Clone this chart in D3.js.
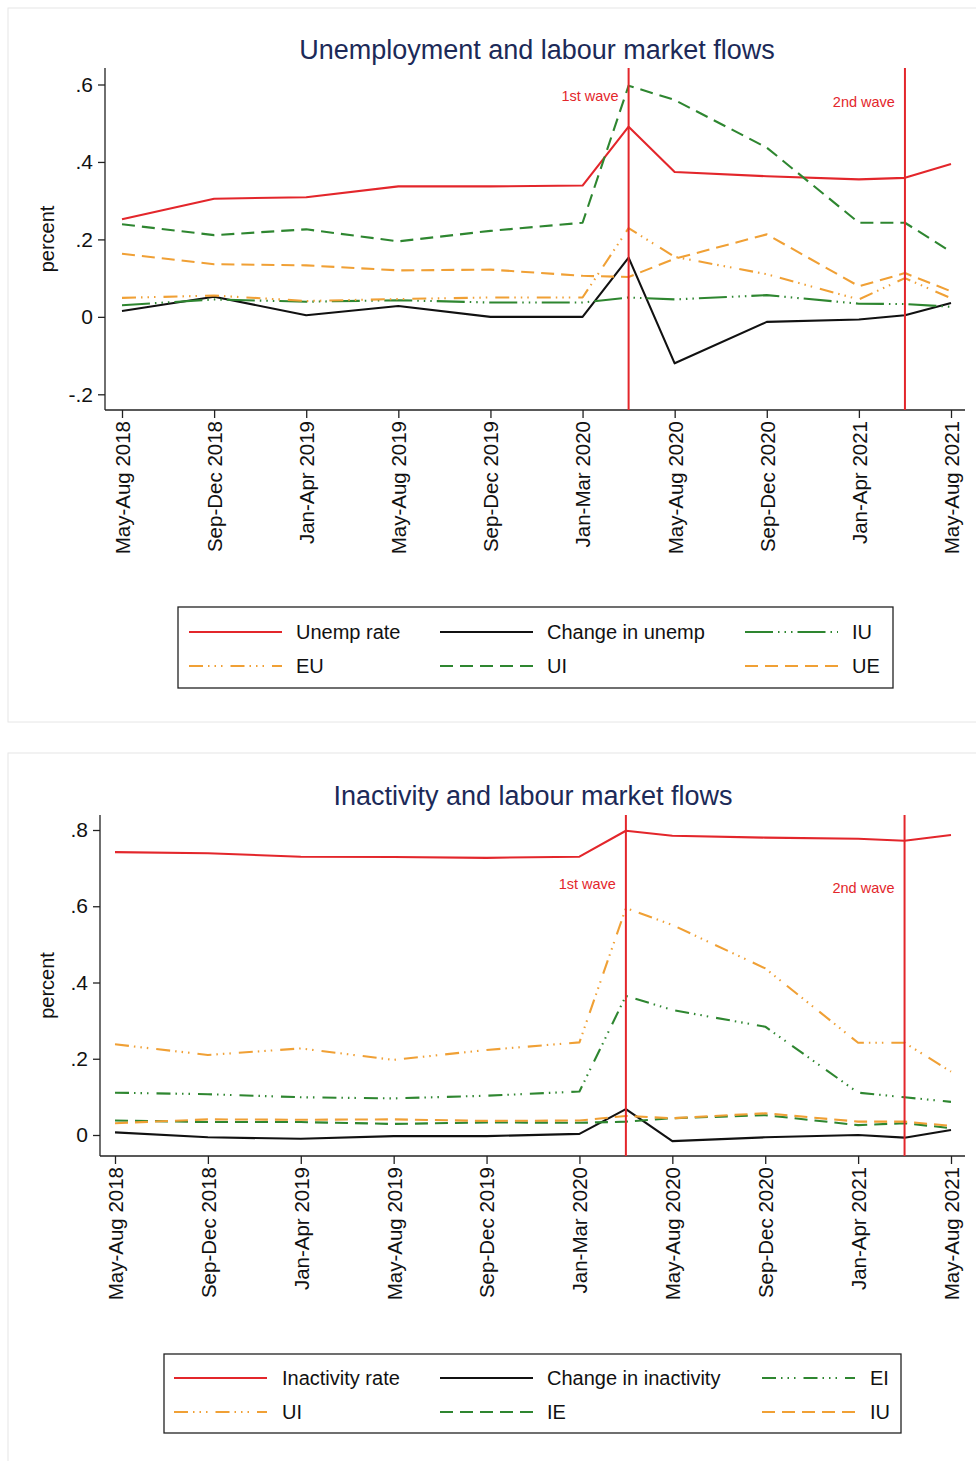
<!DOCTYPE html>
<html><head><meta charset="utf-8">
<script src="https://cdn.jsdelivr.net/npm/d3@7"></script>
<style>
body{margin:0;background:#fff;}
svg{display:block;font-family:"Liberation Sans",Arial,Helvetica,sans-serif;}
</style></head>
<body>
<svg id="chart" width="976" height="1461"></svg>
<script>
// ---- data ----
const tickLabels = ["May-Aug 2018","Sep-Dec 2018","Jan-Apr 2019","May-Aug 2019","Sep-Dec 2019","Jan-Mar 2020","May-Aug 2020","Sep-Dec 2020","Jan-Apr 2021","May-Aug 2021"];
const tickPos = [0,1,2,3,4,5,6,7,8,9];
const periods = [0,1,2,3,4,5,5.5,6,7,8,8.5,9];   // observation positions on the time axis
const waves = [{pos:5.5,label:"1st wave"},{pos:8.5,label:"2nd wave"}];

// Chart 1: unemployment
const unempRate   = [0.252,0.305,0.309,0.337,0.337,0.339,0.491,0.374,0.363,0.355,0.359,0.395];
const chgUnemp    = [0.015,0.052,0.004,0.028,0.000,0.000,0.153,-0.120,-0.013,-0.007,0.004,0.036];
const flowIU1     = [0.030,0.045,0.039,0.043,0.037,0.037,0.050,0.045,0.056,0.034,0.033,0.026];
const flowEU1     = [0.049,0.055,0.041,0.046,0.050,0.050,0.229,0.155,0.110,0.045,0.100,0.048];
const flowUI1     = [0.239,0.211,0.226,0.195,0.222,0.243,0.597,0.560,0.437,0.243,0.243,0.168];
const flowUE1     = [0.163,0.136,0.133,0.120,0.122,0.106,0.103,0.150,0.213,0.079,0.113,0.066];

// Chart 2: inactivity
const inactRate   = [0.742,0.739,0.730,0.729,0.727,0.730,0.798,0.785,0.780,0.777,0.772,0.787];
const chgInact    = [0.007,-0.006,-0.010,-0.003,-0.003,0.003,0.068,-0.016,-0.006,0.000,-0.007,0.013];
const flowEI2     = [0.111,0.107,0.099,0.096,0.103,0.114,0.365,0.328,0.284,0.111,0.099,0.087];
const flowUI2     = [0.238,0.210,0.227,0.197,0.223,0.243,0.595,0.551,0.437,0.242,0.242,0.166];
const flowIE2     = [0.038,0.034,0.034,0.029,0.033,0.032,0.035,0.044,0.052,0.026,0.031,0.018];
const flowIU2     = [0.031,0.041,0.040,0.041,0.037,0.038,0.050,0.044,0.057,0.035,0.035,0.024];

const yTicks1 = [-0.2,0,0.2,0.4,0.6];
const yTicks2 = [0,0.2,0.4,0.6,0.8];

// ---- styles ----
const RED="#e3262b", BLACK="#111", GREEN="#2e8630", ORANGE="#f0a035";
const DASH="13,7", LDD="28,5,1.5,5,1.5,5,1.5,5", SDD="14,5,1.5,5,1.5,5,1.5,8";

const svg = d3.select("#chart");
const fmt = d => d===0 ? "0" : d3.format(".1f")(d).replace("0.",".").replace("\u2212","-");

function panel(cfg){
  const g = svg.append("g");
  g.append("rect").attr("x",cfg.frame[0]).attr("y",cfg.frame[1]).attr("width",cfg.frame[2]).attr("height",cfg.frame[3])
   .attr("fill","none").attr("stroke","#e6e6e6").attr("stroke-width",1);
  const x = d3.scaleLinear().domain([0,9]).range(cfg.xr);
  const y = d3.scaleLinear().domain(cfg.yd).range(cfg.yr);
  g.append("text").attr("x",cfg.titleX).attr("y",cfg.titleY).attr("text-anchor","middle")
   .attr("font-size",27).attr("fill","#1c2a58").text(cfg.title);
  // y axis
  const ya = g.append("g").attr("transform",`translate(${cfg.axX},0)`)
    .call(d3.axisLeft(y).tickValues(cfg.yTicks).tickFormat(fmt).tickSize(7).tickSizeOuter(0));
  ya.select(".domain").remove();
  ya.append("line").attr("x1",0).attr("x2",0).attr("y1",cfg.axTop).attr("y2",cfg.axBot).attr("stroke","#222").attr("stroke-width",1.3);
  ya.selectAll(".tick line").attr("stroke","#222").attr("stroke-width",1.3);
  ya.selectAll(".tick text").attr("font-size",21).attr("fill","#111").attr("x",-12);
  g.append("text").attr("transform",`translate(${cfg.ylabX},${(cfg.axTop+cfg.axBot)/2}) rotate(-90)`)
   .attr("text-anchor","middle").attr("font-size",20).attr("fill","#111").text("percent");
  // x axis
  const xa = g.append("g").attr("transform",`translate(0,${cfg.axBot})`)
    .call(d3.axisBottom(x).tickValues(tickPos).tickFormat(i=>tickLabels[i]).tickSize(8).tickSizeOuter(0));
  xa.select(".domain").remove();
  xa.append("line").attr("x1",cfg.axX).attr("x2",965).attr("y1",0).attr("y2",0).attr("stroke","#222").attr("stroke-width",1.3);
  xa.selectAll(".tick line").attr("stroke","#222").attr("stroke-width",1.3);
  xa.selectAll(".tick text").attr("font-size",20.5).attr("fill","#111")
    .attr("transform","rotate(-90)").attr("text-anchor","end").attr("x",-11).attr("y",0).attr("dy","0.36em");
  // series
  const line = d3.line().x((d,i)=>x(periods[i])).y(d=>y(d));
  cfg.series.forEach(s=>{
    g.append("path").datum(s.values).attr("d",line).attr("fill","none")
     .attr("stroke",s.color).attr("stroke-width",2.1).attr("stroke-dasharray",s.dash||null)
     .attr("stroke-linejoin","round");
  });
  // wave lines
  waves.forEach((w,k)=>{
    g.append("line").attr("x1",x(w.pos)).attr("x2",x(w.pos)).attr("y1",cfg.axTop).attr("y2",cfg.axBot)
     .attr("stroke",RED).attr("stroke-width",2);
    g.append("text").attr("x",x(w.pos)-10).attr("y",cfg.waveY[k]).attr("text-anchor","end")
     .attr("font-size",14.5).attr("fill",RED).text(w.label);
  });
  // legend
  const L = cfg.legend;
  g.append("rect").attr("x",L.box[0]).attr("y",L.box[1]).attr("width",L.box[2]).attr("height",L.box[3])
   .attr("fill","none").attr("stroke","#222").attr("stroke-width",1.3);
  cfg.series.forEach((s,i)=>{
    const c = i%3, r = Math.floor(i/3);
    const yy = L.rows[r], x0 = L.cols[c];
    g.append("line").attr("x1",x0).attr("x2",x0+93).attr("y1",yy).attr("y2",yy)
     .attr("stroke",s.color).attr("stroke-width",2.1).attr("stroke-dasharray",s.dash||null);
    g.append("text").attr("x",L.textX[c]).attr("y",yy).attr("dy","0.36em").attr("font-size",20).attr("fill","#111").text(s.name);
  });
}

panel({
  frame:[8,8,975,714], title:"Unemployment and labour market flows", titleX:537, titleY:59,
  xr:[122,951], yd:[-0.2,0.6], yr:[394.3,84.5], yTicks:yTicks1, axX:105, axTop:68, axBot:410, ylabX:54,
  waveY:[101,107],
  series:[
    {name:"Unemp rate",values:unempRate,color:RED},
    {name:"Change in unemp",values:chgUnemp,color:BLACK},
    {name:"IU",values:flowIU1,color:GREEN,dash:LDD},
    {name:"EU",values:flowEU1,color:ORANGE,dash:SDD},
    {name:"UI",values:flowUI1,color:GREEN,dash:DASH},
    {name:"UE",values:flowUE1,color:ORANGE,dash:DASH}
  ],
  legend:{box:[178,607,715,81],rows:[632,666],cols:[189,440,745],textX:[296,547,852]}
});

panel({
  frame:[8,753,975,714], title:"Inactivity and labour market flows", titleX:533, titleY:805,
  xr:[115,951], yd:[0,0.8], yr:[1135,830], yTicks:yTicks2, axX:100, axTop:815, axBot:1156, ylabX:54,
  waveY:[889,893],
  series:[
    {name:"Inactivity rate",values:inactRate,color:RED},
    {name:"Change in inactivity",values:chgInact,color:BLACK},
    {name:"EI",values:flowEI2,color:GREEN,dash:SDD},
    {name:"UI",values:flowUI2,color:ORANGE,dash:SDD},
    {name:"IE",values:flowIE2,color:GREEN,dash:DASH},
    {name:"IU",values:flowIU2,color:ORANGE,dash:DASH}
  ],
  legend:{box:[164,1354,737,79],rows:[1378,1412],cols:[174,440,762],textX:[282,547,870]}
});
</script>
</body></html>
